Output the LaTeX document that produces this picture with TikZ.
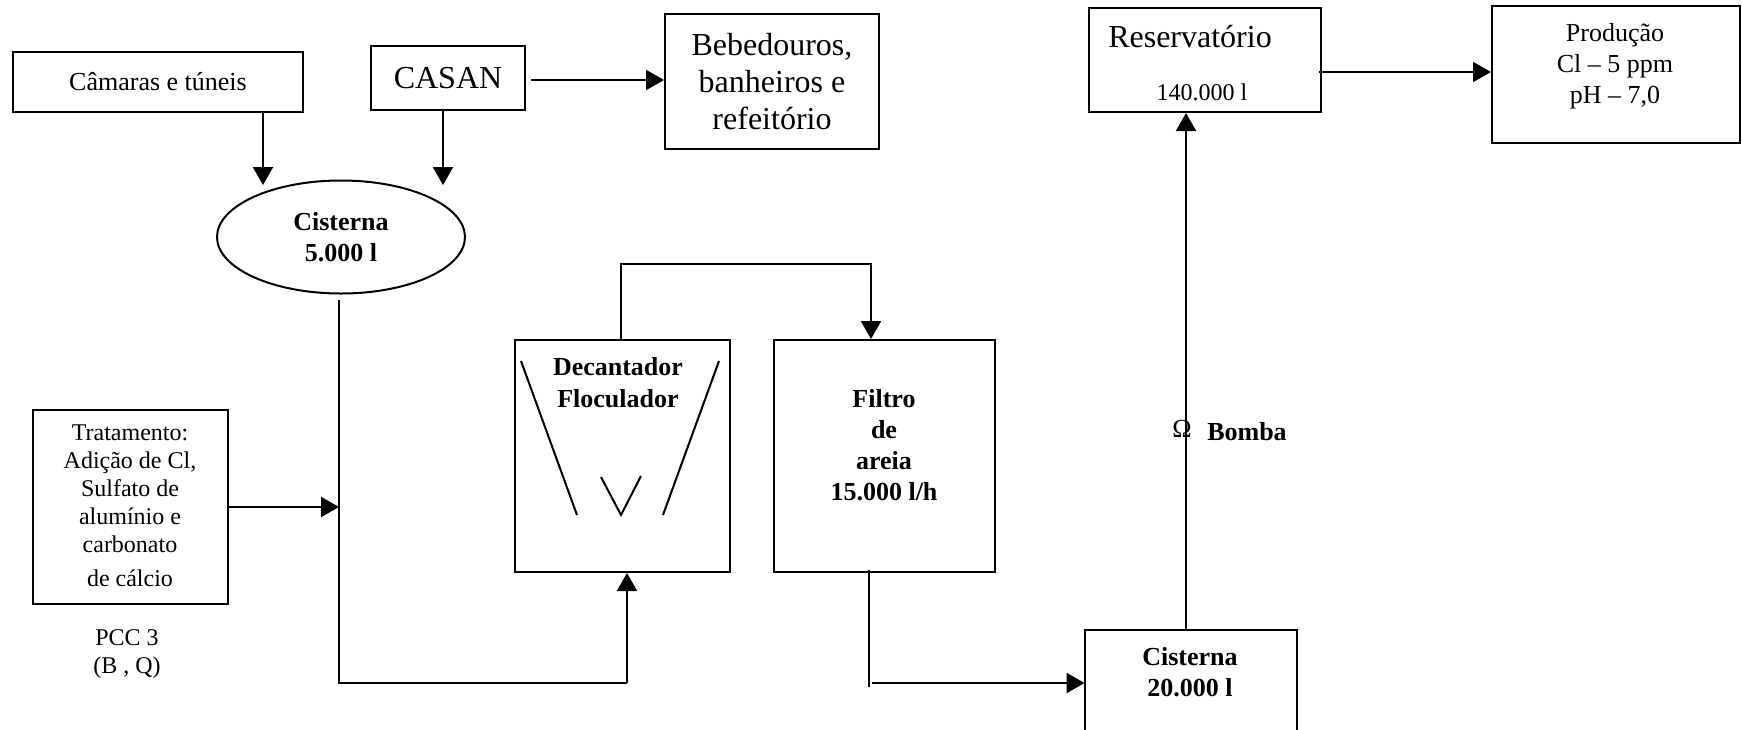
\documentclass[tikz,border=0pt]{standalone}
\usepackage{fontspec}
\setmainfont{Liberation Serif}
\usetikzlibrary{arrows.meta,shapes.geometric}
\begin{document}
\begin{tikzpicture}[x=0.5pt,y=-0.5pt,
  lw/.style={line width=1pt},
  box/.style={draw,lw,inner sep=0pt},
  arr/.style={lw,-{Triangle[length=9pt,width=10pt]}},
  conn/.style={lw},
  t12/.style={font=\fontsize{12}{14}\selectfont,align=center,inner sep=0pt},
  t13/.style={font=\fontsize{13}{15.5}\selectfont,align=center,inner sep=0pt},
  t13b/.style={font=\fontsize{13}{15.5}\selectfont\bfseries,align=center,inner sep=0pt},
  t16/.style={font=\fontsize{16}{18.5}\selectfont,align=center,inner sep=0pt},
]
\useasboundingbox (0,0) rectangle (1742,729);

% top row
\node[box,t13,minimum width=145pt,minimum height=30pt] (cam) at (158,82) {Câmaras e túneis};
\node[box,t16,minimum width=77pt,minimum height=32pt] (casan) at (448,78) {CASAN};
\node[box,t16,minimum width=107pt,minimum height=67.5pt] (beb) at (772,81.5) {Bebedouros,\\banheiros e\\refeitório};
\node[ellipse,draw,lw,t13b,minimum width=124pt,minimum height=56.5pt] (cis1) at (341,237) {Cisterna\\5.000 l};

\node[box,minimum width=116pt,minimum height=52pt] (res) at (1205,60) {};
\node[t16] (rest) at (1190,37) {Reservatório};
\node[t12] (resv) at (1202,92) {140.000 l};
\node[box,minimum width=124pt,minimum height=68.5pt] (prod) at (1616,74.5) {};
\node[t13] (prodt) at (1615,66) {Produção\\Cl – 5 ppm\\pH – 7,0};

% middle
\node[box,minimum width=97.5pt,minimum height=97pt] (trat) at (130.5,507) {};
\node[t12] (tratt) at (130,506) {Tratamento:\\Adição de Cl,\\Sulfato de\\alumínio e\\carbonato\\[3pt]de cálcio};
\node[t12] (pcc) at (127,654) {PCC 3\\(B , Q)};

\node[box,minimum width=107.5pt,minimum height=116pt] (dec) at (622.5,456) {};
\node[t13b,font=\fontsize{13}{16}\selectfont\bfseries] (dect) at (618,383) {Decantador\\Floculador};
\node[box,minimum width=110.5pt,minimum height=116pt] (filt) at (884.5,456) {};
\node[t13b] (filtt) at (884,445) {Filtro\\de\\areia\\15.000 l/h};

\node[minimum width=106pt,minimum height=50pt,inner sep=0pt] (cis2) at (1191,680) {};
\draw[lw] (cis2.south west) -- (cis2.north west) -- (cis2.north east) -- (cis2.south east);
\node[t13b] (cis2t) at (1190,672.5) {Cisterna\\20.000 l};

\node[t13] (omega) at (1182,429) {Ω};
\node[t13b] (bomba) at (1247,432) {Bomba};

% decantador internals
\draw[conn] (521,361) -- (577,515);
\draw[conn] (601,477) -- (621,515) -- (641,476);
\draw[conn] (663,515) -- (719,361);

% coordinates
\coordinate (a1) at (531,80);
\coordinate (a2) at (263,185);
\coordinate (a3) at (443,185);
\coordinate (c1) at (339,300);
\coordinate (j1) at (339,507);
\coordinate (j2) at (339,683);
\coordinate (j3) at (627,683);
\coordinate (d1) at (621,264);
\coordinate (d2) at (871,264);
\coordinate (f0) at (869,570);
\coordinate (f1) at (869,687);
\coordinate (f2) at (872,683);
\coordinate (p1) at (1186,630);
\coordinate (r1) at (1319,72);

% connectors
\draw[arr] (cam.south -| a2) -- (a2);
\draw[arr] (casan.south -| a3) -- (a3);
\draw[arr] (a1) -- (beb.west |- a1);
\draw[conn] (c1) -- (j2) -- (j3);
\draw[arr] (trat.east |- j1) -- (j1);
\draw[arr] (j3) -- (dec.south -| j3);
\draw[arr] (dec.north -| d1) -- (d1) -- (d2) -- (filt.north -| d2);
\draw[conn] (f0) -- (f1);
\draw[arr] (f2) -- (cis2.west |- f2);
\draw[arr] (p1) -- (res.south -| p1);
\draw[arr] (r1) -- (prod.west |- r1);
\end{tikzpicture}
\end{document}
